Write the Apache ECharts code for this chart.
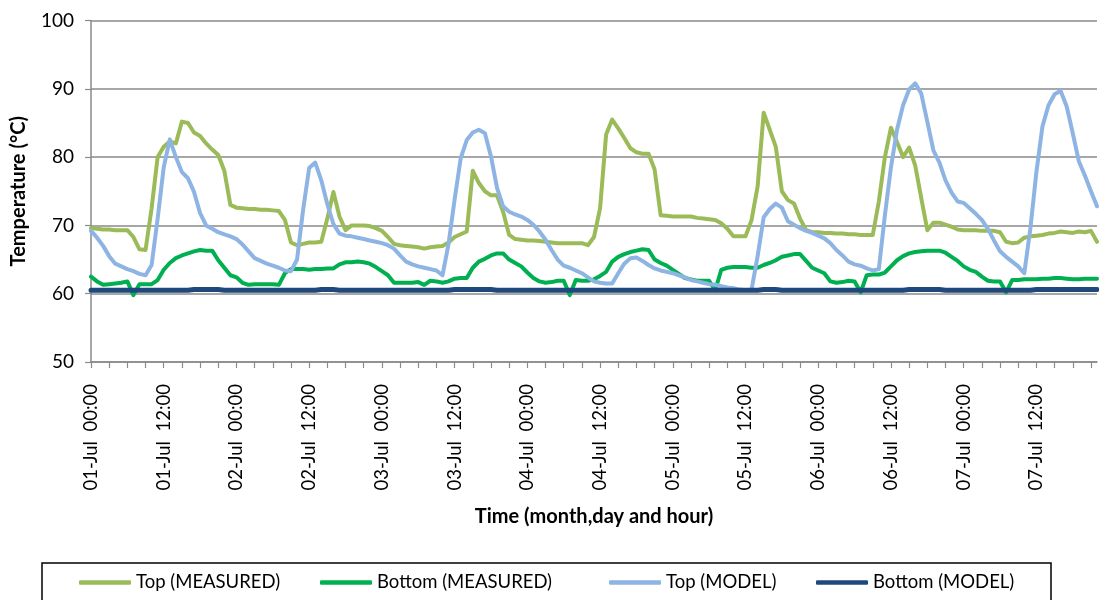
<!DOCTYPE html>
<html>
<head>
<meta charset="utf-8">
<title>Temperature</title>
<script src="https://cdn.jsdelivr.net/npm/echarts@6/dist/echarts.min.js"></script>
<style>
  html, body { margin: 0; padding: 0; background: #ffffff; }
  #chart { width: 1099px; height: 600px; }
</style>
</head>
<body>
<div id="chart"></div>
<script>
// Hourly readings, 01-Jul 00:00 onwards
var dayLabels = ['01-Jul', '02-Jul', '03-Jul', '04-Jul', '05-Jul', '06-Jul', '07-Jul'];

var topMeasured = [
  69.6,69.5,69.4,69.4,69.3,69.3,69.3,68.3,66.5,66.4,
  72.5,80,81.5,82.3,82,85.2,85,83.6,83.1,82,
  81.1,80.3,78,73,72.6,72.5,72.4,72.4,72.3,72.3,
  72.2,72.1,70.8,67.5,67.1,67.3,67.5,67.5,67.6,71,
  74.9,71.3,69.3,70,70,70,69.9,69.6,69.2,68.3,
  67.3,67.1,67,66.9,66.8,66.6,66.8,66.9,67,67.5,
  68.3,68.7,69.1,78,76.2,75,74.4,74.4,72,68.6,
  68,67.9,67.8,67.8,67.7,67.6,67.5,67.4,67.4,67.4,
  67.4,67.4,67.1,68.3,72.5,83.3,85.5,84.2,82.8,81.3,
  80.7,80.5,80.5,78.2,71.5,71.4,71.3,71.3,71.3,71.3,
  71.1,71,70.9,70.8,70.3,69.5,68.4,68.4,68.4,70.8,
  75.7,86.5,84,81.5,75,73.7,73.2,71,69.3,69,
  69,68.9,68.9,68.8,68.8,68.7,68.7,68.6,68.6,68.6,
  73.5,80,84.3,82.2,80,81.4,78.8,74,69.3,70.4,
  70.4,70.1,69.8,69.4,69.3,69.3,69.3,69.2,69.2,69.2,
  69,67.6,67.4,67.5,68.2,68.4,68.5,68.6,68.8,68.9,
  69.1,69,68.9,69.1,69,69.2,67.6
];

var bottomMeasured = [
  62.5,61.8,61.3,61.4,61.5,61.6,61.8,59.8,61.4,61.4,
  61.4,62,63.5,64.5,65.2,65.6,65.9,66.2,66.4,66.3,
  66.3,64.9,63.8,62.7,62.4,61.6,61.3,61.4,61.4,61.4,
  61.4,61.3,63,63.6,63.6,63.6,63.5,63.6,63.6,63.7,
  63.7,64.3,64.6,64.6,64.7,64.6,64.4,63.9,63.3,62.7,
  61.6,61.6,61.6,61.6,61.7,61.3,61.9,61.8,61.6,61.8,
  62.2,62.3,62.3,63.8,64.7,65.1,65.6,65.9,65.9,65,
  64.5,64,63.1,62.3,61.8,61.6,61.7,61.9,61.9,59.8,
  62,61.9,61.9,62.1,62.6,63.2,64.7,65.4,65.8,66.1,
  66.3,66.5,66.4,65,64.5,64.1,63.5,62.9,62.3,62.1,
  61.9,61.9,61.9,60.5,63.5,63.8,63.9,63.9,63.9,63.8,
  63.8,64.2,64.5,64.9,65.4,65.6,65.8,65.8,64.8,63.8,
  63.4,63,61.8,61.6,61.7,61.9,61.8,60.2,62.7,62.8,
  62.8,63.1,64,64.9,65.5,65.9,66.1,66.2,66.3,66.3,
  66.3,66,65.4,64.8,64,63.5,63.2,62.5,61.9,61.8,
  61.8,60.2,62,62,62.1,62.1,62.1,62.2,62.2,62.3,
  62.3,62.2,62.1,62.1,62.2,62.2,62.2
];

var topModel = [
  69.2,68.2,67,65.5,64.4,64,63.6,63.3,62.9,62.7,
  64.2,71,78.5,82.6,80,77.8,76.9,74.9,71.8,70,
  69.5,69,68.7,68.4,68,67.2,66.2,65.2,64.8,64.4,
  64.1,63.8,63.4,63.3,65,72.3,78.4,79.2,76.6,73.1,
  70.2,68.8,68.5,68.4,68.2,68,67.8,67.6,67.4,67.1,
  66.6,65.6,64.7,64.3,64,63.8,63.6,63.4,62.7,67.3,
  73.8,79.8,82.5,83.6,84,83.5,80.1,75.5,72.8,72,
  71.6,71.3,70.8,70.1,69.1,67.9,66.4,65,64.1,63.8,
  63.4,63,62.4,61.8,61.6,61.5,61.5,63,64.4,65.2,
  65.3,64.8,64.2,63.7,63.4,63.2,63,62.7,62.4,62,
  61.8,61.6,61.4,61.3,61.1,60.9,60.8,60.6,60.5,60.6,
  65.5,71.2,72.4,73.2,72.6,70.6,70.1,69.6,69.2,68.9,
  68.5,68.1,67.4,66.4,65.6,64.7,64.3,64.1,63.7,63.4,
  63.6,71.5,78.5,84,87.6,89.9,90.8,89.3,85.2,81,
  79.2,76.6,74.8,73.5,73.3,72.5,71.7,70.8,69.5,67.8,
  66.2,65.4,64.7,64,63,69.5,77.8,84.5,87.6,89.2,
  89.7,87.4,83.5,79.4,77.3,75,72.8
];

var bottomModel = [
  60.5,60.5,60.5,60.5,60.5,60.5,60.5,60.5,60.5,60.5,
  60.5,60.5,60.5,60.5,60.5,60.5,60.5,60.6,60.6,60.6,
  60.6,60.6,60.5,60.5,60.5,60.5,60.5,60.5,60.5,60.5,
  60.5,60.5,60.5,60.5,60.5,60.5,60.5,60.5,60.6,60.6,
  60.6,60.5,60.5,60.5,60.5,60.5,60.5,60.5,60.5,60.5,
  60.5,60.5,60.5,60.5,60.5,60.5,60.5,60.5,60.5,60.5,
  60.6,60.6,60.6,60.6,60.6,60.6,60.6,60.5,60.5,60.5,
  60.5,60.5,60.5,60.5,60.5,60.5,60.5,60.5,60.5,60.5,
  60.5,60.5,60.5,60.5,60.5,60.5,60.5,60.5,60.5,60.5,
  60.5,60.5,60.5,60.5,60.5,60.5,60.5,60.5,60.5,60.5,
  60.5,60.5,60.5,60.5,60.5,60.5,60.5,60.5,60.5,60.5,
  60.5,60.6,60.6,60.6,60.5,60.5,60.5,60.5,60.5,60.5,
  60.5,60.5,60.5,60.5,60.5,60.5,60.5,60.5,60.5,60.5,
  60.5,60.5,60.5,60.5,60.5,60.6,60.6,60.6,60.6,60.6,
  60.6,60.5,60.5,60.5,60.5,60.5,60.5,60.5,60.5,60.5,
  60.5,60.5,60.5,60.5,60.5,60.5,60.6,60.6,60.6,60.6,
  60.6,60.6,60.6,60.6,60.6,60.6,60.6
];

var seriesNames = ['Top (MEASURED)', 'Bottom (MEASURED)', 'Top (MODEL)', 'Bottom (MODEL)'];
var seriesColors = ['#9BBB59', '#00B050', '#8DB4E2', '#1F497D'];
var seriesWidths = [4, 4, 4, 5];
var yTicks = { min: 50, max: 100, step: 10 };

// one category per hour: "01-Jul  00:00", "01-Jul  01:00", ...
var categories = [];
for (var i = 0; i < topMeasured.length; i++) {
  var d = dayLabels[Math.floor(i / 24)];
  var hh = i % 24;
  categories.push(d + '  ' + (hh < 10 ? '0' : '') + hh + ':00');
}

var FONT = 'Lato, "Open Sans", sans-serif';
var GRID_COLOR = '#8a8a8a';

var chart = echarts.init(document.getElementById('chart'), null, { renderer: 'canvas' });

var values = [topMeasured, bottomMeasured, topModel, bottomModel];
var series = values.map(function (v, k) {
  return {
    name: seriesNames[k],
    type: 'line',
    data: v,
    symbol: 'none',
    smooth: false,
    color: seriesColors[k],
    lineStyle: { width: seriesWidths[k], color: seriesColors[k], cap: 'round', join: 'round' },
    z: 2 + k
  };
});

// four legend entries laid out in one framed row
var legendLefts = [79, 320, 609, 816];
var legends = seriesNames.map(function (n, k) {
  return {
    data: [n],
    left: legendLefts[k],
    top: 573,
    icon: 'roundRect',
    itemWidth: 52,
    itemHeight: 4.5,
    itemGap: 0,
    padding: 0,
    textStyle: { fontFamily: FONT, fontSize: 18.5, color: '#000', padding: [0, 0, 0, 0] },
    selectedMode: false
  };
});

chart.setOption({
  animation: false,
  backgroundColor: '#ffffff',
  grid: { left: 91, right: 2, top: 20.5, bottom: 238, containLabel: false },
  legend: legends,
  xAxis: {
    type: 'category',
    data: categories,
    boundaryGap: false,
    name: 'Time (month,day and hour)',
    nameLocation: 'middle',
    nameGap: 145,
    nameTextStyle: { fontFamily: FONT, fontSize: 20, fontWeight: 'bold', color: '#000' },
    axisLine: { show: true, lineStyle: { color: GRID_COLOR, width: 1.5 } },
    axisTick: { show: true, interval: 2, length: 6, lineStyle: { color: GRID_COLOR, width: 1.2 } },
    axisLabel: {
      interval: 11,
      rotate: 90,
      margin: 22,
      fontFamily: FONT,
      fontSize: 18.5,
      color: '#000'
    },
    splitLine: { show: false }
  },
  yAxis: {
    type: 'value',
    min: yTicks.min,
    max: yTicks.max,
    interval: yTicks.step,
    name: 'Temperature (°C)',
    nameLocation: 'middle',
    nameRotate: 90,
    nameGap: 62,
    nameTextStyle: { fontFamily: FONT, fontSize: 20, fontWeight: 'bold', color: '#000' },
    axisLine: { show: true, lineStyle: { color: GRID_COLOR, width: 1.5 } },
    axisTick: { show: true, length: 6, lineStyle: { color: GRID_COLOR, width: 1.2 } },
    axisLabel: { margin: 17, fontFamily: FONT, fontSize: 19, color: '#000' },
    splitLine: { show: true, lineStyle: { color: GRID_COLOR, width: 1.5 } }
  },
  graphic: [{
    type: 'rect',
    left: 39.5,
    top: 560.5,
    shape: { width: 1009, height: 60 },
    style: { fill: 'none', stroke: '#000', lineWidth: 1.5 },
    silent: true
  }],
  series: series
});
</script>
</body>
</html>
